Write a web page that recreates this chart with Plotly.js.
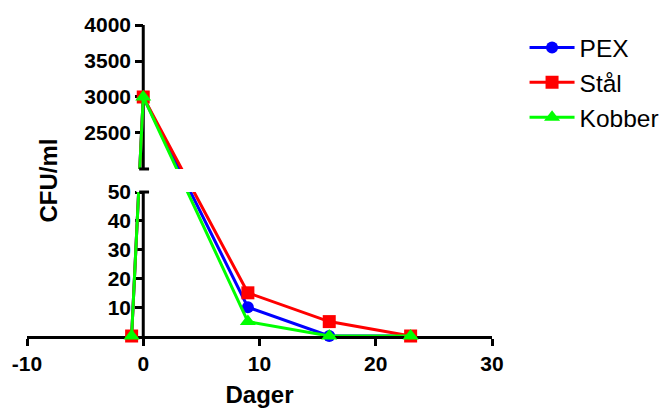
<!DOCTYPE html>
<html>
<head>
<meta charset="utf-8">
<script src="https://cdn.plot.ly/plotly-3.0.1.min.js"></script>
<style>html,body{margin:0;padding:0;background:#fff;}#chart{width:661px;height:408px;}</style>
</head>
<body>
<div id="chart"></div>
<script>
// ---- data ----
const days = [-1, 0, 9, 16, 23];
const pex = [0, 3000, 10, 0, 0];
const staal = [0, 3000, 15, 5, 0];
const kobber = [0, 3000, 5, 0, 0];
const seriesNames = ['PEX', 'Stål', 'Kobber'];
const lowerTicks = [10, 20, 30, 40, 50];
const upperTicks = [2500, 3000, 3500, 4000];
const xTicks = [-10, 0, 10, 20, 30];

// ---- broken y-axis scale: 0..50 below the break, 2000..4000 above ----
const LOW_MAX = 50, GAP = 8, HIGH_MIN = 2000, HIGH_MAX = 4000, HIGH_DIV = 40;
function brk(v) {
  return v <= LOW_MAX ? v : LOW_MAX + GAP + (v - HIGH_MIN) / HIGH_DIV;
}
const TOP = brk(HIGH_MAX);

const colors = ['#0000ff', '#ff0000', '#00ff00'];
const symbols = ['circle', 'square', 'triangle-up'];
const sizes = [12, 13, 14];
const allSeries = [pex, staal, kobber];

const traces = allSeries.map((ys, i) => ({
  x: days,
  y: ys.map(brk),
  customdata: ys,
  hovertemplate: '%{x}, %{customdata}<extra></extra>',
  name: seriesNames[i],
  type: 'scatter',
  mode: 'lines+markers',
  cliponaxis: false,
  line: {color: colors[i], width: 3},
  marker: {color: colors[i], symbol: symbols[i], size: sizes[i]}
}));

const tickVals = lowerTicks.concat(upperTicks).map(brk);
const tickText = lowerTicks.concat(upperTicks).map(String);

const axisFont = {family: 'Liberation Sans, Arial, sans-serif', size: 21, color: '#000', weight: 'bold'};
const titleFont = {family: 'Liberation Sans, Arial, sans-serif', size: 24, color: '#000', weight: 'bold'};

const shapes = [
  // white band hiding the lines in the axis break
  {type: 'rect', xref: 'x', yref: 'y', x0: -0.6, x1: 30, y0: LOW_MAX, y1: LOW_MAX + GAP,
   fillcolor: '#fff', line: {width: 0}, layer: 'above'},
  // y axis line, two segments
  {type: 'line', xref: 'x', yref: 'y', x0: 0, x1: 0, y0: 0, y1: LOW_MAX,
   line: {color: '#000', width: 3}, layer: 'below'},
  {type: 'line', xref: 'x', yref: 'y', x0: 0, x1: 0, y0: LOW_MAX + GAP, y1: TOP,
   line: {color: '#000', width: 3}, layer: 'below'},
  // end caps at the break
  {type: 'line', xref: 'x', yref: 'y', x0: -0.35, x1: 0.5, y0: LOW_MAX, y1: LOW_MAX,
   line: {color: '#000', width: 3}, layer: 'above'},
  {type: 'line', xref: 'x', yref: 'y', x0: -0.35, x1: 0.5, y0: LOW_MAX + GAP, y1: LOW_MAX + GAP,
   line: {color: '#000', width: 3}, layer: 'above'}
];

const layout = {
  width: 661, height: 408,
  margin: {l: 27, r: 169, t: 25, b: 72, autoexpand: false},
  paper_bgcolor: '#fff', plot_bgcolor: '#fff',
  showlegend: true,
  xaxis: {
    range: [-10, 30], tickvals: xTicks, ticktext: xTicks.map(String),
    showgrid: false, zeroline: false, showline: true, linecolor: '#000', linewidth: 3,
    ticks: 'outside', ticklen: 7, tickwidth: 3, tickcolor: '#000',
    tickfont: axisFont, layer: 'below traces',
    title: {text: 'Dager', font: titleFont, standoff: 13}
  },
  yaxis: {
    range: [0, TOP], tickvals: tickVals, ticktext: tickText,
    anchor: 'free', position: 0.25,
    showgrid: false, zeroline: false, showline: false,
    ticks: 'outside', ticklen: 8, tickwidth: 3, tickcolor: '#000',
    tickfont: axisFont, layer: 'below traces',
    title: {text: 'CFU/ml', font: titleFont, standoff: 18}
  },
  legend: {
    x: 1.07, xanchor: 'left', y: 1.0, yanchor: 'top',
    font: {family: 'Liberation Sans, Arial, sans-serif', size: 24.5, color: '#000'},
    itemwidth: 45,
    bgcolor: 'rgba(0,0,0,0)'
  },
  shapes: shapes
};

Plotly.newPlot('chart', traces, layout, {displayModeBar: false, staticPlot: true});
</script>
</body>
</html>
